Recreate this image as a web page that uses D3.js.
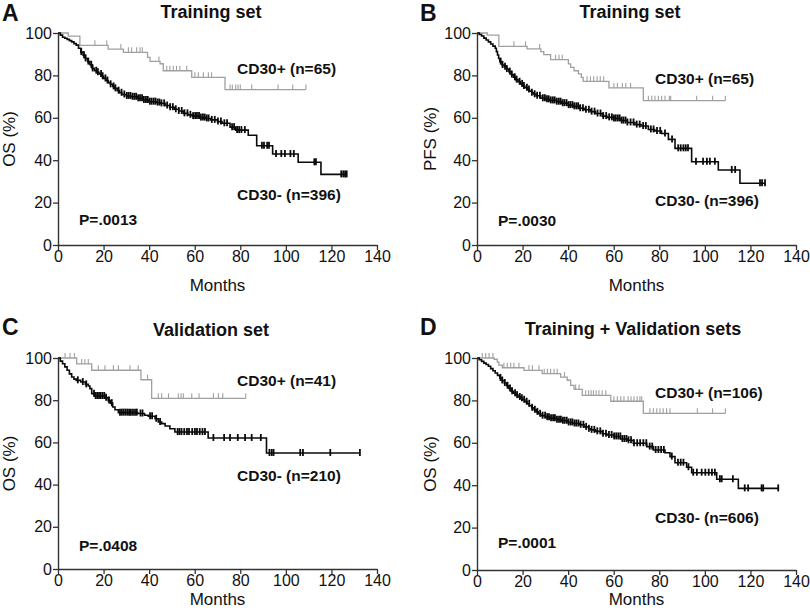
<!DOCTYPE html>
<html><head><meta charset="utf-8">
<script src="https://cdn.jsdelivr.net/npm/d3@7"></script>
<style>
body{margin:0;background:#fff}
svg{display:block}
text{font-family:"Liberation Sans",Arial,Helvetica,sans-serif;fill:#111}
</style>
</head><body>
<svg id="chart" width="810" height="615"></svg>
<script>
// ---------- shared ticks ----------
const xTicks = [0, 20, 40, 60, 80, 100, 120, 140];
const yTicks = [0, 20, 40, 60, 80, 100];

// ---------- Panel A : Training set, OS ----------
const aPosSteps = [[0,100],[4.5,98.5],[9.6,94.2],[22,92.4],[28.7,90.9],[39.3,88.5],[40.4,86.6],[44.8,85.5],[46.2,82.2],[58.7,79.1],[73.3,73.3],[108.8,73.3]];
const aPosCensor = [16.2,21.4,27.6,30.9,32.3,34.5,36,37,44.3,47.7,49.1,50.6,52,53.5,56.5,60.1,61.6,63.8,66,67.4,75.5,76.5,78,79,80,85,96.6,103,108.8];
const aNegSteps = [[0,100],[1,99],[2,98],[3,97.5],[4,97],[5,96.4],[6,95.8],[7,95],[8,94.3],[9,92.8],[10,91],[11,89.5],[12,88],[13,86.5],[14,85],[15,83.3],[16,82.2],[17,81.5],[18,80.7],[19,79.6],[20,78.6],[21,77.6],[22,76.6],[23,75.8],[24,74.8],[25,73.9],[26,72.8],[27,71.8],[28,71],[30,70.3],[32,69.9],[35,69.2],[37,68.4],[40,67.6],[43,67.2],[45,66.8],[47,65.8],[49,65],[51,64],[53,63.2],[55,62.1],[57,61.4],[59,60.8],[62,60.1],[65,59.7],[67,59],[70,58.2],[72,57.4],[75.5,55.6],[78,54.2],[83.5,51.8],[87.2,46.8],[94.2,42.9],[105.4,39],[115.4,33.3],[126.7,33.3]];
const aNegCensor = [10.2,11.4,12.1,13.3,14.6,15.2,16.8,17.5,18.9,19.6,20.8,21.7,23.1,24.4,25.2,26.6,27.9,29.1,30.2,31.0,31.8,32.7,33.5,34.3,35.2,36.0,36.9,37.7,38.6,39.4,40.3,41.1,42.0,42.8,43.7,44.5,45.4,46.6,47.9,49.2,50.4,51.7,53.0,54.3,55.5,56.8,58.1,59.3,60.2,61.0,61.9,62.7,63.6,64.4,65.3,66.1,67.5,68.8,70.2,71.5,73.0,74.2,76.4,77.3,78.6,79.5,80.5,82.0,89.5,90.4,91.8,92.6,95.7,98.0,99.6,102.0,103.5,112.5,113.2,124.3,125.2,126.0,126.7];

// ---------- Panel B : Training set, PFS ----------
const bPosSteps = [[0,100],[4.5,99],[9.6,93.7],[22,92.5],[28,91.2],[29.3,89.8],[32.3,87.4],[40.1,85.4],[41.1,83.8],[42.6,82.2],[44.5,80.7],[45.8,79.1],[46.6,77.2],[57.9,74.1],[73,68.1],[109,68.1]];
const bPosCensor = [16.2,21.3,27.5,34.5,36,37.4,48.3,49.8,51.2,52.7,54.1,55.6,60.1,61.6,63.8,65.3,67.4,75.2,76.7,78.1,79.6,81,82.5,84.4,85,96.4,103.4,109];
const bNegSteps = [[0,100],[1,99.3],[2,98.6],[3,97.6],[4,96.7],[5,95.8],[6,94.8],[7,93.8],[8,92.8],[8.5,91.2],[9,89.6],[9.5,88],[10,86.5],[11,84.9],[12,84.1],[13,83],[14,81.8],[15,80.4],[16,79.1],[17,78],[18,77],[19,76],[20,75],[21,74.2],[22,73.4],[23,72.6],[24,71.8],[25,71.1],[26,70.4],[28,69.2],[30,68.7],[32,68.2],[35,67.6],[37,66.9],[40,66],[42,65.4],[45,64.5],[47,63.8],[50,62.9],[52,62],[55,60.8],[57,60.2],[60,59.7],[63,58.7],[66,57.8],[69.3,56.8],[72,56.1],[75.2,54.5],[78,53.8],[81,52.6],[84,49.8],[86.9,45.6],[94.2,39.3],[105.9,35.4],[115.4,29.1],[126.4,29.1]];
const bNegCensor = [10.4,11.2,12.3,13.1,14.4,15.3,16.6,17.4,18.7,19.8,20.6,21.9,22.8,24.1,25.3,26.4,27.6,28.9,29.8,30.7,31.5,32.4,33.3,34.1,35.0,35.9,36.7,37.6,38.4,39.3,40.2,41.0,41.9,42.7,43.6,44.4,45.3,46.5,47.8,49.1,50.3,51.6,52.9,54.2,55.4,56.7,58.0,59.2,60.1,60.9,61.8,62.6,63.5,64.3,65.2,66.0,67.4,68.7,70.1,71.4,72.9,74.1,76.3,77.5,79.0,80.4,82.5,85.6,88.3,89.4,90.6,91.6,92.6,96.1,99.2,100.9,102.2,104.4,111.8,113.3,124.2,125.1,126.4];

// ---------- Panel C : Validation set, OS ----------
const cPosSteps = [[0,100],[8.2,97.2],[14.8,94.2],[36.4,89.7],[41.1,80.9],[82.4,80.9]];
const cPosCensor = [3.1,5.3,7.2,10.4,11.8,13.3,17.7,20.6,24.3,26.5,31.6,35.2,39.3,44,45.5,48.5,52.8,54,55,58.7,61.9,68.2,70.4,72.3,82.4];
const cNegSteps = [[0,100],[1,98.5],[2,97.3],[3,95.8],[4,94.2],[5,92.5],[6,91],[7,90],[8,89.4],[10,88.6],[12,87.5],[13.3,86.7],[14,85.5],[14.8,83.1],[16,82],[20.6,81.2],[22,79.8],[23,78.6],[24,76.8],[25,75.5],[26.5,74.1],[35,73.7],[38,72.9],[39.6,72.4],[42.6,71.2],[44,69.7],[45.5,68.9],[47,67.8],[49.1,66.5],[51.3,64.9],[65.9,62.1],[91.5,55],[132.5,55]];
const cNegCensor = [8.7,10.9,12.4,15.8,16.5,17.2,18.0,18.7,19.5,20.3,21.1,22.4,23.6,27.2,28.0,28.8,29.6,30.4,31.2,32.0,32.9,33.8,34.6,36.2,37.1,40.4,41.3,43.1,44.8,52.5,53.3,54.2,55.4,56.6,57.5,58.9,60.1,61.0,62.2,63.4,64.5,68.2,72.9,75.5,78.9,82.1,85.0,89.0,92.8,93.8,94.6,106.3,107.5,119.5,132.5];

// ---------- Panel D : Training + Validation sets, OS ----------
const dPosSteps = [[0,100],[7.5,99.4],[8.9,98.1],[9.6,96.6],[11.1,95.4],[20.6,94.2],[28.6,92.6],[36.7,91],[39.6,89.5],[41.1,87.1],[42.6,85.2],[46.2,82.4],[58.7,79.6],[73,73.9],[109,73.9]];
const dPosCensor = [2.3,3.8,5.3,7.0,11.8,13.3,14.8,16.2,18.4,22.8,24.3,27.2,29.5,30.9,32.3,33.8,35.2,38.4,43.3,44.8,47.7,49.0,50.1,51.1,52.3,53.5,54.9,56.5,60.1,61.6,63.1,64.5,66.3,67.6,68.9,70.3,71.5,72.3,75.9,77.4,78.9,80.3,81.7,83.2,84.7,96.7,103.4,109];
const dNegSteps = [[0,100],[1,99.2],[2,98.4],[3,97.6],[4,96.9],[5,96.1],[6,95],[7,94],[8,92.9],[9,91.8],[10,90.6],[11,89.4],[12,88.2],[13,86.9],[14,85.6],[15,84.3],[16,83.4],[17,82.5],[18,81.6],[19,81],[20,80.3],[21,79.4],[22,78.4],[23,77.5],[24,76.5],[25,75.6],[26,74.6],[27,73.7],[28,72.8],[30,72.1],[32,71.6],[35,70.9],[37,70.4],[40,69.6],[42,69.1],[45,68.5],[47,67.5],[49,66.6],[50,66.1],[52,65.4],[55,64.3],[57,63.7],[60,63],[63,61.8],[66,61.2],[68.6,59.8],[74.5,58.2],[77.4,56.6],[82.5,55.3],[84.7,53.5],[86.9,50.6],[92,48.5],[94.2,45.9],[105.2,42.8],[114.7,38.5],[132.2,38.5]];
const dNegCensor = [10.3,11.1,12.2,13.4,14.5,15.4,16.7,17.6,18.8,19.7,20.7,21.8,22.9,24.2,25.4,26.5,27.7,28.8,29.9,30.8,31.6,32.5,33.4,34.2,35.1,36.0,36.8,37.7,38.5,39.4,40.2,41.1,41.9,42.8,43.6,44.5,45.5,46.7,47.9,49.1,50.3,51.5,52.8,54.1,55.3,56.6,57.9,59.1,60.2,61.1,62.0,62.9,63.8,64.7,65.6,66.5,67.6,68.9,70.3,71.6,73.0,74.3,75.8,76.9,78.4,79.6,80.8,82.0,85.5,88.2,89.4,90.6,92.8,94.9,96.5,98.6,100.2,101.7,103.1,104.4,106.6,107.4,112.3,117.5,119.0,124.9,125.6,132.2];

// ---------- panel options (built from the arrays above) ----------
const panels = [
  {letter:"A", title:"Training set", ylab:"OS (%)", pos:aPosSteps, posC:aPosCensor, neg:aNegSteps, negC:aNegCensor,
   posLab:"CD30+ (n=65)", negLab:"CD30- (n=396)", p:"P=.0013",
   L:58, R:377, T:33, B:245, lx:2, ly:21, tx:211, ty:18, yx:15, my:291, px1:237, py1:74, px2:237, py2:200, ppx:79, ppy:225},
  {letter:"B", title:"Training set", ylab:"PFS (%)", pos:bPosSteps, posC:bPosCensor, neg:bNegSteps, negC:bNegCensor,
   posLab:"CD30+ (n=65)", negLab:"CD30- (n=396)", p:"P=.0030",
   L:477, R:796, T:33, B:245, lx:420, ly:21, tx:630, ty:18, yx:436, my:291, px1:655, py1:84, px2:655, py2:206, ppx:498, ppy:226},
  {letter:"C", title:"Validation set", ylab:"OS (%)", pos:cPosSteps, posC:cPosCensor, neg:cNegSteps, negC:cNegCensor,
   posLab:"CD30+ (n=41)", negLab:"CD30- (n=210)", p:"P=.0408",
   L:58, R:377, T:358, B:569, lx:2, ly:335, tx:211, ty:336, yx:15, my:605, px1:237, py1:386, px2:237, py2:481, ppx:79, ppy:551},
  {letter:"D", title:"Training + Validation sets", ylab:"OS (%)", pos:dPosSteps, posC:dPosCensor, neg:dNegSteps, negC:dNegCensor,
   posLab:"CD30+ (n=106)", negLab:"CD30- (n=606)", p:"P=.0001",
   L:477, R:796, T:358, B:570, lx:420, ly:335, tx:633, ty:335, yx:436, my:605, px1:655, py1:398, px2:655, py2:523, ppx:498, ppy:548}
];

const svg = d3.select("#chart");
const GRAY = "#a0a0a0", BLACK = "#0a0a0a";

function survAt(steps, t) {
  let v = steps[0][1];
  for (const s of steps) { if (s[0] <= t) v = s[1]; else break; }
  return v;
}

panels.forEach(pn => {
  const g = svg.append("g");
  const x = d3.scaleLinear().domain([0, 140]).range([pn.L, pn.R]);
  const y = d3.scaleLinear().domain([0, 100]).range([pn.B, pn.T]);

  // axes
  const xa = g.append("g").attr("transform", `translate(0,${pn.B})`)
    .call(d3.axisBottom(x).tickValues(xTicks).tickSize(5).tickSizeOuter(0).tickPadding(1));
  const ya = g.append("g").attr("transform", `translate(${pn.L},0)`)
    .call(d3.axisLeft(y).tickValues(yTicks).tickSize(5).tickSizeOuter(0).tickPadding(1));
  [xa, ya].forEach(a => {
    a.select(".domain").attr("stroke", "#333").attr("stroke-width", 1.4);
    a.selectAll(".tick line").attr("stroke", "#333").attr("stroke-width", 1.3);
    a.selectAll(".tick text").attr("font-size", 16).attr("fill", "#111")
      .style("font-family", '"Liberation Sans",Arial,sans-serif');
  });

  const line = d3.line().x(d => x(d[0])).y(d => y(d[1])).curve(d3.curveStepAfter);

  // curves: [steps, censors, colour, line width, tick top offset, tick bottom offset, tick width]
  [[pn.pos, pn.posC, GRAY, 1.3, -5, 0, 1.1], [pn.neg, pn.negC, BLACK, 1.6, -4, 3, 1.8]].forEach(([steps, cens, col, w, up, dn, tw]) => {
    g.append("path").datum(steps).attr("d", line)
      .attr("fill", "none").attr("stroke", col).attr("stroke-width", w);
    g.selectAll(null).data(cens).join("line")
      .attr("x1", d => x(d)).attr("x2", d => x(d))
      .attr("y1", d => y(survAt(steps, d)) + up)
      .attr("y2", d => y(survAt(steps, d)) + dn)
      .attr("stroke", col).attr("stroke-width", tw);
  });

  // texts
  g.append("text").attr("x", pn.lx).attr("y", pn.ly).attr("font-size", 23).attr("font-weight", "bold").text(pn.letter);
  g.append("text").attr("x", pn.tx).attr("y", pn.ty).attr("font-size", 18).attr("font-weight", "bold")
    .attr("text-anchor", "middle").text(pn.title);
  g.append("text").attr("x", (pn.L + pn.R) / 2).attr("y", pn.my).attr("font-size", 17)
    .attr("text-anchor", "middle").text("Months");
  g.append("text").attr("transform", `translate(${pn.yx},${(pn.T + pn.B) / 2}) rotate(-90)`)
    .attr("font-size", 17).attr("text-anchor", "middle").text(pn.ylab);
  g.append("text").attr("x", pn.px1).attr("y", pn.py1).attr("font-size", 15.5).attr("font-weight", "bold").text(pn.posLab);
  g.append("text").attr("x", pn.px2).attr("y", pn.py2).attr("font-size", 15.5).attr("font-weight", "bold").text(pn.negLab);
  g.append("text").attr("x", pn.ppx).attr("y", pn.ppy).attr("font-size", 15.5).attr("font-weight", "bold").text(pn.p);
});
</script>
</body></html>
